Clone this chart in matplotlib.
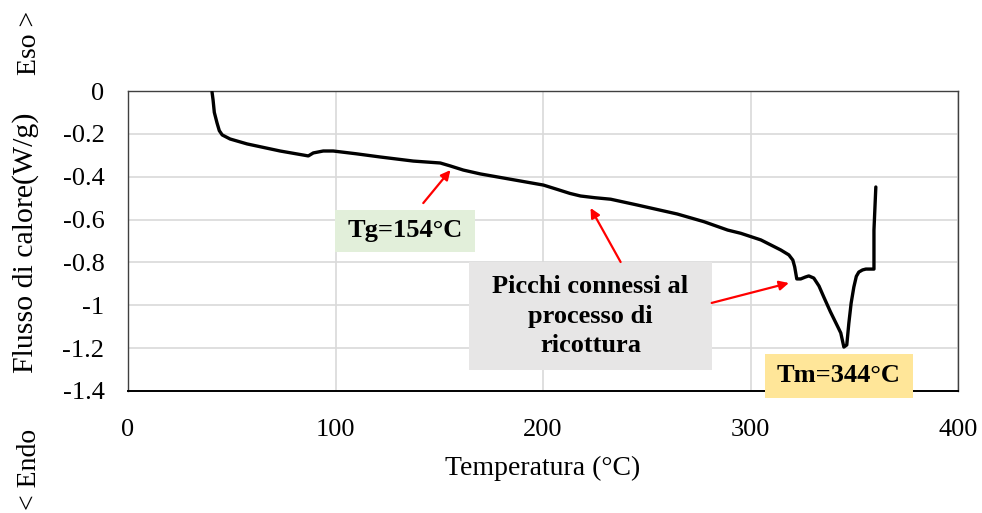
import matplotlib
matplotlib.use('agg')
import matplotlib.pyplot as plt
from matplotlib.patches import Rectangle

# DSC curve
temp = [40.5, 41.0, 41.6, 42.9, 44.0, 45.4, 49.2, 57.4, 73.3, 86.9, 89.3,
        94.1, 98.9, 110.0, 121.6, 137.5, 150.5, 155.4, 161.6, 169.8, 185.0,
        200.2, 206.8, 213.0, 218.1, 225.0, 232.6, 245.4, 264.7, 277.6,
        289.0, 295.3, 305.0, 314.6, 318.5, 320.4, 321.3, 322.3, 324.2,
        326.5, 328.1, 330.5, 333.0, 335.3, 338.5, 342.1, 343.5, 345.0,
        346.4, 347.4, 348.5, 349.8, 351.0, 352.2, 354.0, 355.6, 359.5,
        359.5, 360.4]
flux = [-0.005, -0.042, -0.100, -0.149, -0.185, -0.205, -0.224, -0.247,
        -0.280, -0.303, -0.289, -0.280, -0.280, -0.293, -0.308, -0.327,
        -0.336, -0.350, -0.369, -0.387, -0.413, -0.439, -0.459, -0.478,
        -0.490, -0.498, -0.505, -0.532, -0.574, -0.610, -0.649, -0.664,
        -0.695, -0.742, -0.765, -0.789, -0.821, -0.877, -0.877, -0.868,
        -0.863, -0.873, -0.910, -0.961, -1.030, -1.101, -1.129, -1.195,
        -1.185, -1.083, -0.990, -0.915, -0.865, -0.845, -0.835, -0.831,
        -0.831, -0.649, -0.448]

x_ticks = [0, 100, 200, 300, 400]
y_ticks = [0, -0.2, -0.4, -0.6, -0.8, -1.0, -1.2, -1.4]
y_labels = ['0', '-0.2', '-0.4', '-0.6', '-0.8', '-1', '-1.2', '-1.4']

SERIF = 'Liberation Serif'


def main():
    plt.rcParams['font.family'] = SERIF
    fig = plt.figure(figsize=(9.82, 5.13), dpi=100)
    ax = fig.add_axes([128 / 982, 1 - 391 / 513, 830 / 982, 300 / 513])

    ax.plot(temp, flux, color='black', lw=2.4, solid_joinstyle='round',
            solid_capstyle='round', zorder=3)

    ax.set_xlim(0, 400)
    ax.set_ylim(-1.4, 0)
    ax.set_xticks(x_ticks)
    ax.set_yticks(y_ticks)
    ax.set_yticklabels(y_labels)
    ax.tick_params(length=0, labelsize=19)
    ax.tick_params(axis='y', pad=17)
    ax.tick_params(axis='x', pad=20)
    ax.grid(True, color='#D9D9D9', lw=1.2)
    ax.set_axisbelow(True)
    for sp in ax.spines.values():
        sp.set_color('#404040')
        sp.set_linewidth(1.0)
    ax.spines['bottom'].set_color('black')
    ax.spines['bottom'].set_linewidth(1.4)

    ax.set_xlabel('Temperatura (°C)', fontsize=20, labelpad=11)
    fig.text(26 / 982, 1 - 243 / 513, 'Flusso di calore(W/g)', rotation=90,
             fontsize=21.5, ha='center', va='center')
    fig.text(30 / 982, 1 - 43 / 513, 'Eso >', rotation=90,
             fontsize=20, ha='center', va='center')
    fig.text(30 / 982, 1 - 469 / 513, '< Endo', rotation=90,
             fontsize=20, ha='center', va='center')

    # annotation boxes
    boxes = [
        ((99.9, -0.751), 67.5, 0.196, '#E2EFDA', 'Tg=154°C'),
        ((164.5, -1.302), 116.8, 0.504, '#E7E6E6',
         'Picchi connessi al\nprocesso di\nricottura'),
        ((306.9, -1.433), 71.4, 0.206, '#FFE699', 'Tm=344°C'),
    ]
    for (x0, y0), w, h, col, txt in boxes:
        ax.add_patch(Rectangle((x0, y0), w, h, facecolor=col, edgecolor='none',
                               zorder=4, clip_on=False))
        ax.text(x0 + w / 2, y0 + h / 2, txt, ha='center', va='center',
                fontsize=19, fontweight='bold', linespacing=1.38, zorder=5,
                clip_on=False)

    arrows = [
        ((142.3, -0.523), (155.4, -0.369)),
        ((237.4, -0.798), (222.9, -0.546)),
        ((281.3, -0.989), (318.5, -0.896)),
    ]
    for start, end in arrows:
        ax.annotate('', xy=end, xytext=start, zorder=6,
                    arrowprops=dict(arrowstyle='-|>', color='red', lw=1.6,
                                    mutation_scale=14, shrinkA=0, shrinkB=0))

    fig.savefig('out.png', dpi=100)


if __name__ == '__main__':
    main()
